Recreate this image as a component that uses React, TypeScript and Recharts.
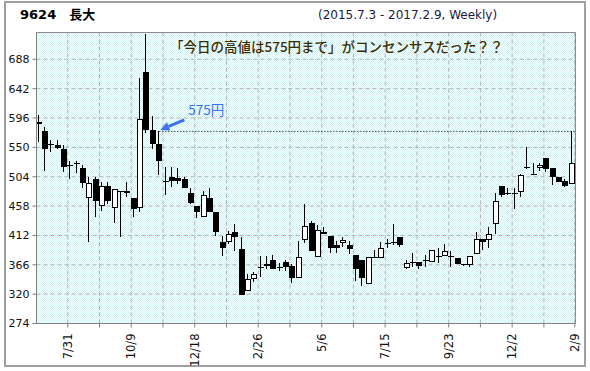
import {
  Bar,
  CartesianGrid,
  ComposedChart,
  ReferenceArea,
  ReferenceDot,
  ReferenceLine,
  XAxis,
  YAxis,
} from "recharts";

// weekly candles, first one is the week of 2015-06-29
const firstWeek = "2015-06-29";

const opens = [
  589, 576, 555, 554, 547, 522, 526, 518, 472, 500, 459, 490, 457, 481, 482, 470, 456, 668, 577, 555,
  498, 503, 502, 500, 479, 458, 442, 470, 448, 401, 404, 417, 390, 327, 345, 362, 366, 373, 362, 370,
  364, 347, 406, 432, 380, 418, 411, 397, 401, 397, 381, 373, 338, 378, 378, 400, 402, 409, 362, 370,
  370, 373, 372, 380, 381, 379, 376, 368, 368, 384, 406, 406, 431, 490, 478, 479, 481, 520, 509, 519,
  534, 517, 504, 498, 494,
];
const highs = [
  601, 582, 562, 561, 554, 528, 529, 523, 504, 504, 496, 496, 485, 482, 496, 470, 658, 728, 599, 575,
  520, 519, 517, 504, 487, 458, 481, 486, 448, 411, 419, 430, 409, 351, 355, 379, 380, 381, 369, 374,
  368, 404, 461, 435, 428, 425, 411, 404, 409, 404, 381, 373, 378, 389, 401, 407, 430, 409, 373, 384,
  370, 381, 389, 392, 398, 388, 376, 368, 379, 418, 407, 425, 478, 490, 487, 486, 509, 551, 525, 526,
  534, 517, 504, 500, 575,
];
const lows = [
  559, 513, 543, 547, 512, 500, 510, 487, 401, 441, 451, 462, 431, 410, 472, 441, 448, 572, 548, 506,
  476, 488, 492, 487, 461, 440, 442, 448, 411, 380, 398, 388, 318, 326, 339, 347, 359, 359, 357, 357,
  337, 347, 400, 388, 380, 414, 385, 385, 394, 383, 341, 332, 338, 377, 377, 392, 397, 394, 359, 362,
  359, 363, 372, 369, 381, 362, 367, 364, 362, 383, 389, 392, 415, 473, 475, 453, 473, 516, 508, 513,
  512, 491, 495, 488, 494,
];
const closes = [
  586, 548, 553, 549, 520, 521, 526, 494, 494, 466, 490, 466, 484, 480, 478, 454, 594, 577, 555, 529,
  497, 497, 498, 487, 463, 448, 475, 449, 418, 393, 415, 409, 319, 343, 351, 362, 367, 359, 362, 362,
  345, 378, 427, 388, 420, 415, 393, 393, 405, 390, 359, 346, 378, 378, 393, 399, 402, 397, 369, 370,
  364, 373, 389, 380, 387, 379, 368, 366, 379, 407, 401, 414, 466, 475, 478, 479, 506, 520, 509, 523,
  516, 504, 496, 490, 525,
];

const yTicks = [274, 320, 366, 412, 458, 504, 550, 596, 642, 688];
const labelDates = [
  "2015-07-31", "2015-10-09", "2015-12-18", "2016-02-26", "2016-05-06",
  "2016-07-15", "2016-09-23", "2016-12-02", "2017-02-09",
];
const labelTexts = ["7/31", "10/9", "12/18", "2/26", "5/6", "7/15", "9/23", "12/2", "2/9"];

const title = "9624　長大";
const period = "(2015.7.3 - 2017.2.9, Weekly)";
const note = "「今日の高値は575円まで」がコンセンサスだった？？";
const consensusHigh = 575;
const consensusWeek = 19;
const consensusText = "575円";

const weekOf = (d: string) => (Date.parse(d) - Date.parse(firstWeek)) / (7 * 86400000);

const data = opens.map((o, i) => ({
  i,
  o,
  h: highs[i],
  l: lows[i],
  c: closes[i],
  range: [lows[i], highs[i]],
}));

const majorTicks = labelDates.map(weekOf);
const minorTicks = labelDates.slice(0, -1).map((d) => weekOf(d) + 5);
const xTicks = [...majorTicks, ...minorTicks].sort((a, b) => a - b);

const Candle = (props: any) => {
  const { x, y, width, height, payload } = props;
  const { o, h, l, c } = payload;
  const span = h - l || 1;
  const toY = (v: number) => y + ((h - v) / span) * height;
  const left = Math.round(x + width / 2) - 3;
  const wx = left + 2.5;
  const top = Math.round(toY(Math.max(o, c)));
  const bottom = Math.round(toY(Math.min(o, c)));
  const bodyH = Math.max(bottom - top, 1);
  return (
    <g>
      <line x1={wx} x2={wx} y1={Math.round(toY(h))} y2={Math.round(toY(l))} stroke="#000" />
      {c > o ? (
        <rect x={left + 0.5} y={top + 0.5} width={5} height={bodyH} fill="#fff" stroke="#000" />
      ) : (
        <rect x={left} y={top} width={6} height={bodyH} fill="#000" />
      )}
    </g>
  );
};

const XTick = (props: any) => {
  const { x, y, payload } = props;
  const idx = majorTicks.findIndex((v) => Math.abs(v - payload.value) < 1e-6);
  if (idx < 0) return null;
  return (
    <text
      transform={`translate(${x},${y + 4}) rotate(-90)`}
      textAnchor="end"
      dy="0.35em"
      fontSize={11.5}
      fontFamily="DejaVu Sans"
      fill="#111"
    >
      {labelTexts[idx]}
    </text>
  );
};

const ArrowMark = (props: any) => {
  const { cx, cy } = props;
  const tip = { x: cx + 1, y: cy - 1.5 };
  const tail = { x: cx + 25, y: cy - 11.5 };
  const dx = tip.x - tail.x;
  const dy = tip.y - tail.y;
  const len = Math.hypot(dx, dy);
  const ux = dx / len;
  const uy = dy / len;
  const bx = tip.x - ux * 9;
  const by = tip.y - uy * 9;
  const px = -uy * 4.5;
  const py = ux * 4.5;
  return (
    <g>
      <line x1={tail.x} y1={tail.y} x2={bx} y2={by} stroke="#3d73f0" strokeWidth={3} />
      <polygon
        points={`${tip.x},${tip.y} ${bx + px},${by + py} ${bx - px},${by - py}`}
        fill="#3d73f0"
      />
      <text x={cx + 29} y={cy - 16} fontSize={13.5} fontFamily="Noto Sans CJK JP" fill="#3a74f5">
        {consensusText}
      </text>
    </g>
  );
};

export default function App() {
  return (
    <div style={{ position: "fixed", left: 0, top: 0, width: 590, height: 371, background: "#fff" }}>
      <div
        style={{
          position: "absolute",
          left: 4,
          top: 1,
          width: 582,
          height: 366,
          boxSizing: "border-box",
          border: "2px solid #a0a0a0",
        }}
      />
      <div
        style={{
          position: "absolute",
          left: 20,
          top: 7,
          lineHeight: "16px",
          fontSize: 13,
          fontWeight: "bold",
          fontFamily: "'DejaVu Sans', 'Noto Sans CJK JP'",
          color: "#000",
        }}
      >
        {title}
      </div>
      <div
        style={{
          position: "absolute",
          left: 318,
          top: 7,
          lineHeight: "16px",
          fontSize: 12,
          fontFamily: "'DejaVu Sans'",
          color: "#1a1a40",
        }}
      >
        {period}
      </div>
      <ComposedChart
        width={590}
        height={371}
        data={data}
        margin={{ top: 32.5, right: 14.5, bottom: 0, left: 0.5 }}
      >
        <defs>
          <pattern id="dots" width="2" height="2" patternUnits="userSpaceOnUse">
            <rect width="2" height="2" fill="#f5fefe" />
            <rect width="1" height="1" fill="#d2f3f3" />
            <rect x="1" y="1" width="1" height="1" fill="#d2f3f3" />
          </pattern>
        </defs>
        <CartesianGrid
          stroke="#b4b4b4"
          strokeDasharray="4 3"
          fill="url(#dots) #e6f9f9"
          fillOpacity={1}
        />
        <XAxis
          dataKey="i"
          type="number"
          domain={[-0.35, 84.55]}
          ticks={xTicks}
          interval={0}
          height={47.5}
          tickSize={4}
          tick={<XTick />}
          stroke="#808080"
        />
        <YAxis
          type="number"
          domain={[274, 730]}
          ticks={yTicks}
          interval={0}
          width={36}
          tickSize={4}
          tickMargin={3}
          stroke="#808080"
          tick={{ fill: "#111", fontSize: 11, fontFamily: "DejaVu Sans" }}
        />
        <ReferenceArea
          x1={-0.35}
          x2={84.55}
          y1={274}
          y2={730}
          fill="none"
          stroke="#8c8c8c"
          strokeOpacity={1}
        />
        <Bar dataKey="range" barSize={6} shape={<Candle />} isAnimationActive={false} />
        <ReferenceLine
          segment={[
            { x: consensusWeek, y: consensusHigh },
            { x: 84.55, y: consensusHigh },
          ]}
          stroke="#000"
          strokeOpacity={1}
          strokeDasharray="1 2"
        />
        <ReferenceDot x={consensusWeek} y={consensusHigh} shape={<ArrowMark />} />
      </ComposedChart>
      <div
        style={{
          position: "absolute",
          left: 170,
          top: 37,
          lineHeight: "18px",
          fontSize: 13.5,
          fontWeight: 500,
          fontFamily: "'Noto Sans CJK JP'",
          color: "#3a2c00",
          whiteSpace: "nowrap",
        }}
      >
        {note}
      </div>
    </div>
  );
}
